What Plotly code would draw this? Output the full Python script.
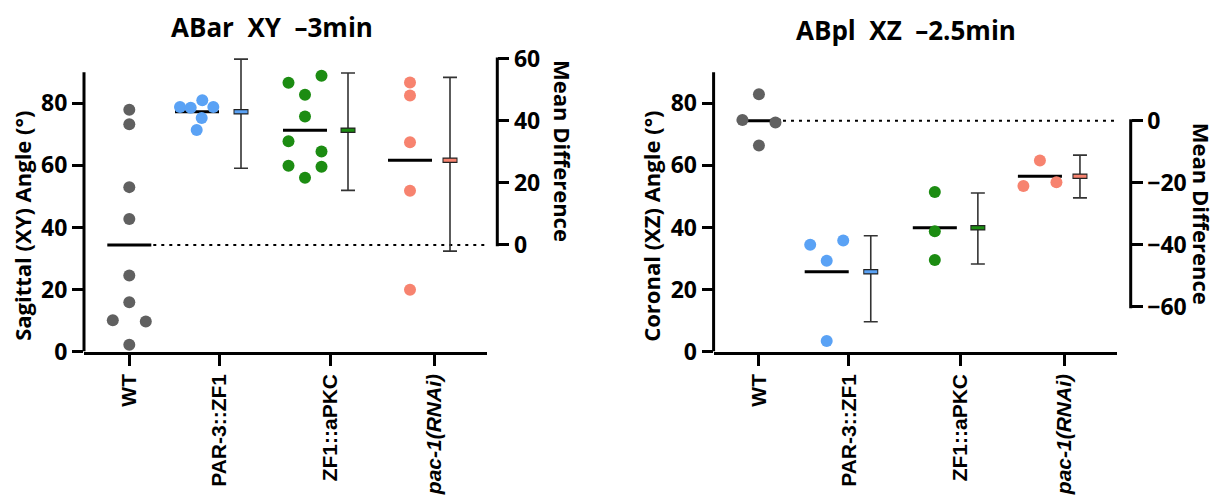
import numpy as np
import plotly.graph_objects as go

W, H = 1217, 501


def PX(px):
    return px / W


def PY(py):
    return (H - py) / H


# ---------------- data ----------------
categories = ["WT", "PAR-3::ZF1", "ZF1::aPKC", "<i>pac-1(RNAi)</i>"]

# Panel 1: ABar XY -3min  (Sagittal angle, degrees)
xy_wt = [77.9, 73.3, 53.0, 42.7, 24.5, 15.9, 10.1, 9.7, 2.2]
xy_par3 = [78.8, 78.6, 81.0, 78.8, 75.3, 71.4]
xy_zf1 = [86.6, 88.9, 82.8, 75.8, 67.8, 64.5, 59.9, 59.6, 56.0]
xy_pac1 = [86.7, 82.5, 67.5, 51.8, 19.9]
xy_ci_low = [24.7, 17.6, -2.0]     # mean difference CI vs WT
xy_ci_high = [59.9, 55.4, 54.0]

# Panel 2: ABpl XZ -2.5min (Coronal angle, degrees)
xz_wt = [82.9, 74.6, 73.8, 66.4]
xz_par3 = [34.4, 35.8, 29.3, 3.4]
xz_zf1 = [51.4, 38.8, 29.5]
xz_pac1 = [61.6, 53.4, 54.6]
xz_ci_low = [-64.8, -46.2, -24.9]
xz_ci_high = [-37.1, -23.3, -11.1]

angle_ticks = [0, 20, 40, 60, 80]
xy_diff_ticks = [0, 20, 40, 60]
xz_diff_ticks = [0, -20, -40, -60]

# ---------------- layout helpers (positions / styles) ----------------
colors = ["#606060", "#5aa2f5", "#1c8c12", "#f7836f"]
group_x = [45.3, 113.0, 221.0, 326.0]
diff_x = [157.0, 264.0, 366.0]
tick_x = [45.3, 135.0, 246.6, 350.5]
J = 16.5
xy_jitter = [[0, 0, 0, 0, 0, 0, -J, J, 0],
             [-17, -6.3, 5.3, 16.3, 4.7, -0.3],
             [-J, J, 0, 0, -J, J, -J, J, 0],
             [0, 0, 0, 0, 0]]
xz_jitter = [[0, -J, J, 0],
             [-J, J, 0, 0],
             [0, 0, 0],
             [0, -J, J]]
MEAN_HW = 22
XR = [0, 403]
YR = [0, 98]
PXU = 3.232
y_dom = [PY(361), PY(361 - (YR[1] - YR[0]) * PXU)]

FONT = "Open Sans"
num_font = dict(family=FONT, size=23, color="black", weight="bold")
lab_font = dict(family="Liberation Sans", size=21, color="black", weight="bold")

fig = go.Figure()


def panel(xa, ya, ya2, groups, jitter, ci_low, ci_high):
    means = [float(np.mean(g)) for g in groups]
    wt_mean = means[0]
    # group mean lines
    lx, ly = [], []
    for cx, m in zip(group_x, means):
        lx += [cx - MEAN_HW, cx + MEAN_HW, None]
        ly += [m, m, None]
    fig.add_trace(go.Scatter(x=lx, y=ly, mode="lines", xaxis=xa, yaxis=ya,
                             line=dict(color="black", width=3), showlegend=False,
                             hoverinfo="skip"))
    # zero line of the mean-difference axis
    fig.add_trace(go.Scatter(x=[group_x[0] + MEAN_HW + 2, XR[1] - 2], y=[0, 0],
                             mode="lines", xaxis=xa, yaxis=ya2,
                             line=dict(color="black", width=2, dash="3px,5px"),
                             showlegend=False, hoverinfo="skip"))
    # individual points
    for g, jit, cx, c in zip(groups, jitter, group_x, colors):
        fig.add_trace(go.Scatter(x=[cx + j for j in jit], y=g, mode="markers",
                                 xaxis=xa, yaxis=ya,
                                 marker=dict(size=12, color=c, line=dict(width=0)),
                                 showlegend=False))
    # mean differences with CI
    diffs = [m - wt_mean for m in means[1:]]
    fig.add_trace(go.Scatter(
        x=diff_x, y=diffs, mode="markers", xaxis=xa, yaxis=ya2,
        marker=dict(size=2, color="rgba(0,0,0,0)"),
        error_y=dict(type="data", symmetric=False,
                     array=[h - d for h, d in zip(ci_high, diffs)],
                     arrayminus=[d - l for l, d in zip(ci_low, diffs)],
                     width=7, thickness=1.6, color="#333333"),
        showlegend=False))
    for dx, d, c in zip(diff_x, diffs, colors[1:]):
        fig.add_trace(go.Scatter(x=[dx - 7.5, dx + 7.5], y=[d, d], mode="lines",
                                 xaxis=xa, yaxis=ya2, hoverinfo="skip",
                                 line=dict(color="#222222", width=5.5), showlegend=False))
        fig.add_trace(go.Scatter(x=[dx - 6.5, dx + 6.5], y=[d, d], mode="lines",
                                 xaxis=xa, yaxis=ya2, hoverinfo="skip",
                                 line=dict(color=c, width=3), showlegend=False))
    return wt_mean


xy_groups = [xy_wt, xy_par3, xy_zf1, xy_pac1]
xz_groups = [xz_wt, xz_par3, xz_zf1, xz_pac1]
m1 = panel("x", "y", "y2", xy_groups, xy_jitter, xy_ci_low, xy_ci_high)
m2 = panel("x2", "y3", "y4", xz_groups, xz_jitter, xz_ci_low, xz_ci_high)

L1, R1, RA1 = 84.0, 487.0, 497.3
L2, R2, RA2 = 713.6, 1117.0, 1130.7

xcommon = dict(range=XR, tickmode="array", tickvals=tick_x, ticktext=categories,
               tickangle=-90, ticks="outside", ticklen=11, tickwidth=3, tickcolor="black",
               showline=True, linewidth=3, linecolor="black", showgrid=False,
               zeroline=False, tickfont=lab_font, fixedrange=True)
ycommon = dict(range=YR, domain=y_dom, tickmode="array", tickvals=angle_ticks,
               ticks="outside", ticklen=11, tickwidth=3, tickcolor="black",
               showline=False, showgrid=False, zeroline=False, tickfont=num_font)


def diff_axis(overlay, pos, wt_mean, ticks):
    return dict(overlaying=overlay, anchor="free", position=pos, side="right",
                range=[YR[0] - wt_mean, YR[1] - wt_mean], tickmode="array",
                tickvals=ticks, ticks="outside", ticklen=11, tickwidth=3,
                tickcolor="black", showline=False, showgrid=False, zeroline=False,
                tickfont=num_font)


fig.update_layout(
    width=W, height=H, margin=dict(l=0, r=0, t=0, b=0),
    paper_bgcolor="white", plot_bgcolor="white",
    xaxis=dict(domain=[PX(L1), PX(R1)], anchor="y", **xcommon),
    yaxis=dict(anchor="x", **ycommon),
    yaxis2=diff_axis("y", PX(RA1), m1, xy_diff_ticks),
    xaxis2=dict(domain=[PX(L2), PX(R2)], anchor="y3", **xcommon),
    yaxis3=dict(anchor="x2", **ycommon),
    yaxis4=diff_axis("y3", PX(RA2), m2, xz_diff_ticks),
)

axis_line = dict(color="black", width=3)
fig.add_shape(type="line", xref="paper", yref="y", x0=PX(L1), x1=PX(L1), y0=0, y1=90, line=axis_line)
fig.add_shape(type="line", xref="paper", yref="y2", x0=PX(RA1), x1=PX(RA1), y0=-0.45, y1=60.45, line=axis_line)
fig.add_shape(type="line", xref="paper", yref="y3", x0=PX(L2), x1=PX(L2), y0=0, y1=90, line=axis_line)
fig.add_shape(type="line", xref="paper", yref="y4", x0=PX(RA2), x1=PX(RA2), y0=-60.45, y1=0.45, line=axis_line)

title_font = dict(family=FONT, size=26, color="black", weight="bold")
ytitle_font = dict(family=FONT, size=22, color="black", weight="bold")


def ann(text, px, py, font, angle=0):
    fig.add_annotation(text=text, x=PX(px), y=PY(py), xref="paper", yref="paper",
                       showarrow=False, textangle=angle, font=font,
                       xanchor="center", yanchor="middle")


ann("ABar&nbsp; XY&nbsp; –3min", 272, 23, title_font)
ann("ABpl&nbsp; XZ&nbsp; –2.5min", 906, 26, title_font)
ann("Sagittal (XY) Angle (°)", 22, 230, ytitle_font, -90)
ann("Mean Difference", 563, 152, ytitle_font, 90)
ann("Coronal (XZ) Angle (°)", 651, 231, ytitle_font, -90)
ann("Mean Difference", 1202, 217.5, ytitle_font, 90)

# remove the default 8px page margin so the 1217x501 figure fills the window exactly
fig.write_html("out.html", config={"displayModeBar": False},
               post_script="document.body.style.margin='0';document.body.style.overflow='hidden';")
